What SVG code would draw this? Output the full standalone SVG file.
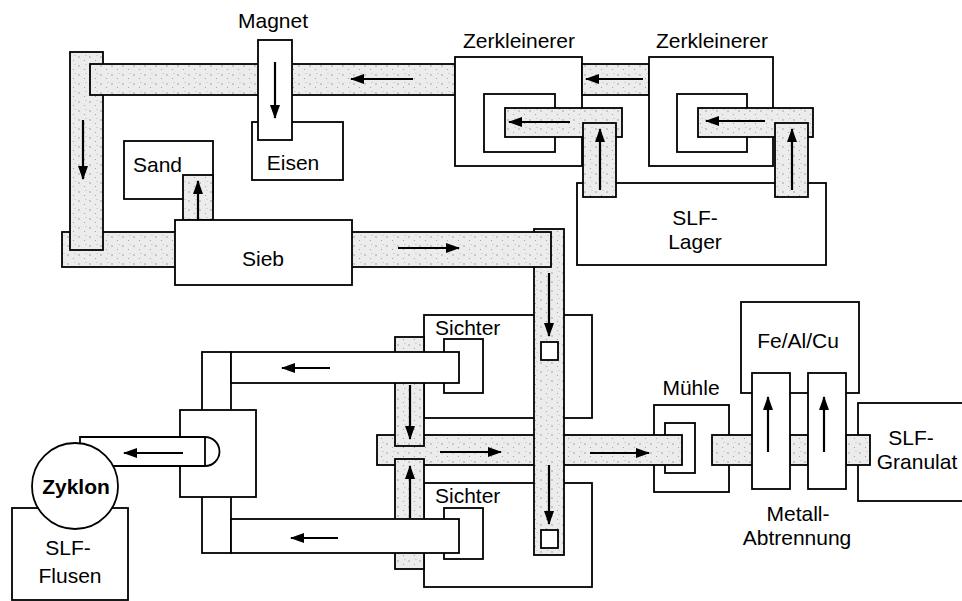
<svg xmlns="http://www.w3.org/2000/svg" width="962" height="601" viewBox="0 0 962 601">
<defs>
<pattern id="sp" width="11" height="9" patternUnits="userSpaceOnUse">
<rect width="11" height="9" fill="#ececec"/>
<circle cx="2" cy="3" r="0.7" fill="#888"/>
<circle cx="7.5" cy="6.5" r="0.6" fill="#999"/>
<circle cx="9" cy="1.5" r="0.5" fill="#aaa"/>
</pattern>
<marker id="ah" viewBox="0 0 14 10" refX="13" refY="5" markerWidth="14" markerHeight="10" orient="auto" markerUnits="userSpaceOnUse">
<path d="M0,0 L14,5 L0,10 z" fill="#000"/>
</marker>
<style>
.w, .c, .sh { stroke:#000; stroke-width:1.8; }
.w { fill:#fff; }
.c { fill:url(#sp); }
text { font-family:"Liberation Sans", Arial, sans-serif; font-size:21px; fill:#000; }
.m { text-anchor:middle; }
.b { font-weight:bold; }
.arr line { stroke:#000; stroke-width:2.2; marker-end:url(#ah); }
</style>
</defs>
<rect width="962" height="601" fill="#fff"/>

<g id="sichter1"><rect class="w" x="424" y="315" width="168" height="103"/><rect class="w" x="444" y="339" width="39" height="54"/><text x="435" y="335">Sichter</text></g>
<g id="sichter2"><rect class="w" x="424" y="483" width="168" height="104"/><rect class="w" x="444" y="508" width="39" height="51"/><text x="435" y="503">Sichter</text></g>
<g id="muehle"><text class="m" x="691" y="395">Mühle</text><rect class="w" x="654" y="405" width="75" height="87"/><rect class="w" x="665" y="423" width="30" height="50"/></g>
<g id="belt-mid"><rect class="c" x="377" y="435" width="305" height="30"/></g>
<g id="sv-top"><rect class="c" x="395" y="337" width="29" height="109"/></g>
<g id="sv-bot"><rect class="c" x="395" y="459" width="29" height="110"/></g>
<g id="frame"><rect class="w" x="202" y="352" width="29" height="201"/><rect class="w" x="231" y="352" width="228" height="31"/><rect class="w" x="231" y="519" width="228" height="34"/></g>
<g id="flusen"><rect class="w" x="12" y="508" width="116" height="92"/><text class="m" x="68" y="555">SLF-</text><text class="m" x="70" y="583">Flusen</text></g>
<g id="zyklon-block"><rect class="w" x="180" y="410" width="76" height="87"/><path class="sh w" d="M80,437 L205,437 A14.5,14.5 0 0 1 205,466 L80,466 Z"/><path class="sh" d="M205,437 L205,466" fill="none"/></g>
<g id="zyklon"><circle class="w" cx="75" cy="486" r="43"/><text class="m b" x="76" y="494">Zyklon</text></g>

<g id="belt-right-v"><rect class="c" x="534" y="229" width="30" height="326"/><rect class="w" x="541" y="342" width="17" height="18"/><rect class="w" x="541" y="530" width="17" height="18"/></g>
<g id="belt-bottom"><rect class="c" x="62" y="232" width="489" height="35"/></g>
<g id="belt-left-v"><rect class="c" x="70" y="52" width="33" height="198"/></g>
<g id="belt-top"><rect class="c" x="90" y="64" width="365" height="31"/></g>
<g id="eisen"><rect class="w" x="252" y="122" width="91" height="58"/><text class="m" x="293" y="170">Eisen</text></g>
<g id="magnet"><text class="m" x="273" y="28">Magnet</text><rect class="w" x="258" y="40" width="34" height="100"/></g>
<g id="sand"><rect class="w" x="124" y="141" width="89" height="58"/><text x="133" y="172">Sand</text><rect class="c" x="183" y="175" width="30" height="45"/></g>
<g id="sieb"><rect class="w" x="175" y="220" width="177" height="65"/><text class="m" x="263" y="266">Sieb</text></g>

<g id="lager"><rect class="w" x="577" y="183" width="249" height="82"/><text class="m" x="695" y="225">SLF-</text><text class="m" x="695" y="249">Lager</text></g>
<g id="zerk1"><text class="m" x="519" y="48">Zerkleinerer</text><rect class="w" x="455" y="57" width="127" height="109"/><rect class="w" x="484" y="94" width="71" height="58"/><rect class="c" x="505" y="108" width="117" height="29"/><rect class="c" x="583" y="123" width="33" height="74"/></g>
<g id="belt-zz"><rect class="c" x="582" y="64" width="67" height="31"/></g>
<g id="zerk2"><text class="m" x="712" y="48">Zerkleinerer</text><rect class="w" x="649" y="57" width="124" height="109"/><rect class="w" x="677" y="94" width="70" height="58"/><rect class="c" x="698" y="108" width="115" height="29"/><rect class="c" x="775" y="123" width="33" height="74"/></g>

<g id="feAlCu"><rect class="w" x="741" y="302" width="118" height="91"/><text class="m" x="798" y="348">Fe/Al/Cu</text></g>
<g id="granulat"><rect class="w" x="858" y="403" width="115" height="98"/><text class="m" x="911" y="445">SLF-</text><text class="m" x="917" y="469">Granulat</text></g>
<g id="belts-right"><rect class="c" x="712" y="435" width="41" height="30"/><rect class="c" x="790" y="435" width="18" height="30"/><rect class="c" x="846" y="435" width="24" height="30"/></g>
<g id="metall"><rect class="w" x="752" y="373" width="38" height="116"/><rect class="w" x="808" y="373" width="38" height="116"/><text class="m" x="798" y="521">Metall-</text><text class="m" x="797" y="545">Abtrennung</text></g>

<g id="connectors" class="arr">
<line x1="413" y1="79" x2="351" y2="79"/>
<line x1="643" y1="79" x2="586" y2="79"/>
<line x1="570" y1="122" x2="509" y2="122"/>
<line x1="765" y1="121" x2="706" y2="121"/>
<line x1="600" y1="190" x2="600" y2="129"/>
<line x1="792" y1="190" x2="792" y2="129"/>
<line x1="275" y1="62" x2="275" y2="118"/>
<line x1="83" y1="120" x2="83" y2="179"/>
<line x1="198" y1="220" x2="198" y2="181"/>
<line x1="398" y1="248" x2="459" y2="248"/>
<line x1="549" y1="273" x2="549" y2="336"/>
<line x1="549" y1="465" x2="549" y2="524"/>
<line x1="410" y1="385" x2="410" y2="439"/>
<line x1="410" y1="518" x2="410" y2="466"/>
<line x1="440" y1="452" x2="501" y2="452"/>
<line x1="590" y1="453" x2="649" y2="453"/>
<line x1="330" y1="368" x2="282" y2="368"/>
<line x1="338" y1="538" x2="291" y2="538"/>
<line x1="183" y1="453" x2="124" y2="453"/>
<line x1="768" y1="452" x2="768" y2="397"/>
<line x1="824" y1="452" x2="824" y2="397"/>
</g>
</svg>
